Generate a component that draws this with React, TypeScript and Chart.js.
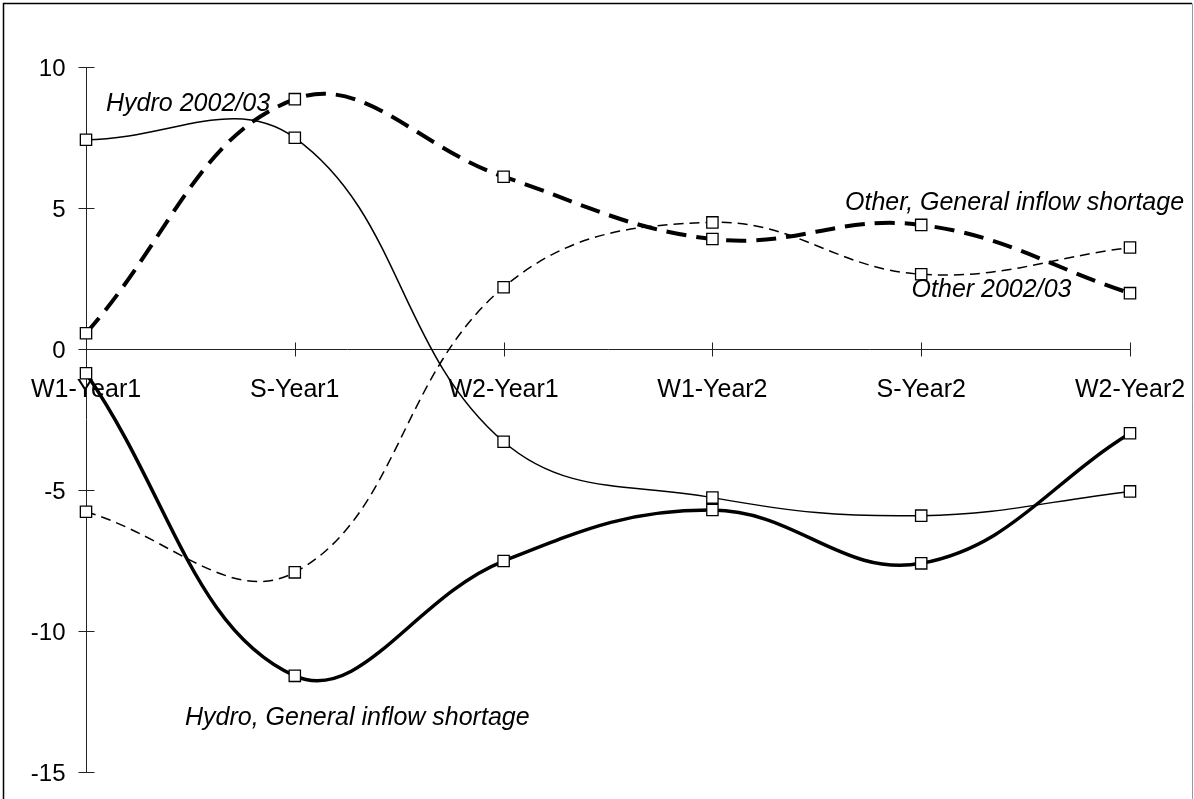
import React, { useEffect, useRef } from "react";
import { Chart, registerables } from "chart.js";

Chart.register(...registerables);

const categories = ["W1-Year1", "S-Year1", "W2-Year1", "W1-Year2", "S-Year2", "W2-Year2"];
const hydro0203 = [7.42, 7.49, -3.29, -5.27, -5.91, -5.05];
const hydroGIS = [-0.86, -11.59, -7.52, -5.71, -7.6, -2.99];
const other0203 = [-5.77, -7.92, 2.19, 4.49, 2.65, 3.6];
const otherGIS = [0.56, 8.86, 6.11, 3.9, 4.4, 1.98];
const yTicks = [10, 5, 0, -5, -10, -15];
const seriesNames = ["Hydro 2002/03", "Hydro, General inflow shortage", "Other 2002/03", "Other, General inflow shortage"];
// label anchors in data coordinates: [category index (left edge), value (baseline)]
const labelIdx = [0.096, 0.474, 3.954, 3.635];
const labelVal = [8.45, -13.33, 1.86, 4.94];

const FONT = "'Liberation Sans', Arial, sans-serif";

const axesPlugin = {
  id: "refAxes",
  beforeDraw(chart: any) {
    const ctx = chart.ctx;
    ctx.save();
    ctx.fillStyle = "#fff";
    ctx.fillRect(0, 0, chart.width, chart.height);
    ctx.strokeStyle = "#000";
    ctx.lineWidth = 1.5;
    ctx.beginPath();
    ctx.moveTo(3.5, chart.height + 5);
    ctx.lineTo(3.5, 3.5);
    ctx.lineTo(chart.width - 2, 3.5);
    ctx.stroke();
    ctx.strokeStyle = "#999";
    ctx.lineWidth = 1;
    ctx.beginPath();
    ctx.moveTo(chart.width - 1.5, 3.5);
    ctx.lineTo(chart.width - 1.5, chart.height + 5);
    ctx.stroke();
    ctx.restore();
  },
  beforeDatasetsDraw(chart: any) {
    const ctx = chart.ctx;
    const xs = chart.scales.x;
    const ys = chart.scales.y;
    const x0 = Math.round(xs.getPixelForValue(0)) + 0.5;
    const y0 = Math.round(ys.getPixelForValue(0)) + 0.5;
    ctx.save();
    ctx.strokeStyle = "#222";
    ctx.lineWidth = 1;
    ctx.beginPath();
    // y axis
    ctx.moveTo(x0, ys.getPixelForValue(yTicks[0]));
    ctx.lineTo(x0, ys.getPixelForValue(yTicks[yTicks.length - 1]));
    yTicks.forEach((t) => {
      const py = Math.round(ys.getPixelForValue(t)) + 0.5;
      ctx.moveTo(x0 - 8, py);
      ctx.lineTo(x0 + 8, py);
    });
    // x axis
    const xEnd = Math.round(xs.getPixelForValue(categories.length - 1)) + 0.5;
    ctx.moveTo(x0, y0);
    ctx.lineTo(xEnd, y0);
    categories.forEach((_, i) => {
      const px = Math.round(xs.getPixelForValue(i)) + 0.5;
      ctx.moveTo(px, y0 - 7);
      ctx.lineTo(px, y0 + 7);
    });
    ctx.stroke();

    ctx.fillStyle = "#000";
    ctx.font = `24px ${FONT}`;
    ctx.textAlign = "right";
    ctx.textBaseline = "alphabetic";
    yTicks.forEach((t) => {
      ctx.fillText(String(t), x0 - 21, ys.getPixelForValue(t) + 8.7);
    });
    ctx.font = `25px ${FONT}`;
    ctx.textAlign = "center";
    categories.forEach((c, i) => {
      ctx.fillText(c, xs.getPixelForValue(i), y0 + 47);
    });
    ctx.restore();
  },
  afterDatasetsDraw(chart: any) {
    const ctx = chart.ctx;
    const xs = chart.scales.x;
    const ys = chart.scales.y;
    ctx.save();
    ctx.fillStyle = "#000";
    ctx.font = `italic 25px ${FONT}`;
    ctx.textAlign = "left";
    ctx.textBaseline = "alphabetic";
    seriesNames.forEach((n, i) => {
      ctx.fillText(n, xs.getPixelForValue(labelIdx[i]), ys.getPixelForValue(labelVal[i]));
    });
    ctx.restore();
  },
};

function ds(label: string, data: number[], width: number, dash: number[]) {
  return {
    label,
    data,
    borderColor: "#000",
    borderWidth: width,
    borderDash: dash,
    tension: 0.4,
    fill: false,
    clip: false,
    pointStyle: "rect",
    pointRadius: 8,
    pointBorderWidth: 1.3,
    pointBackgroundColor: "#fff",
    pointBorderColor: "#000",
  };
}

export default function App() {
  const ref = useRef<HTMLCanvasElement>(null);
  useEffect(() => {
    if (!ref.current) return;
    const chart = new Chart(ref.current, {
      type: "line",
      data: {
        labels: categories,
        datasets: [
          ds(seriesNames[0], hydro0203, 1.5, []),
          ds(seriesNames[1], hydroGIS, 3.5, []),
          ds(seriesNames[2], other0203, 1.5, [10, 6]),
          ds(seriesNames[3], otherGIS, 4, [20, 10]),
        ] as any,
      },
      options: {
        responsive: false,
        animation: false,
        devicePixelRatio: 1,
        layout: { padding: { left: 86, right: 64, top: 67, bottom: 27 } },
        plugins: { legend: { display: false }, tooltip: { enabled: false } },
        scales: {
          x: { type: "category", display: false, offset: false },
          y: { type: "linear", display: false, min: -15, max: 10 },
        },
      },
      plugins: [axesPlugin],
    });
    return () => chart.destroy();
  }, []);
  return (
    <div style={{ position: "fixed", left: 0, top: 0, width: 1194, height: 799, background: "#fff" }}>
      <canvas ref={ref} width={1194} height={799} style={{ width: 1194, height: 799, display: "block" }} />
    </div>
  );
}
